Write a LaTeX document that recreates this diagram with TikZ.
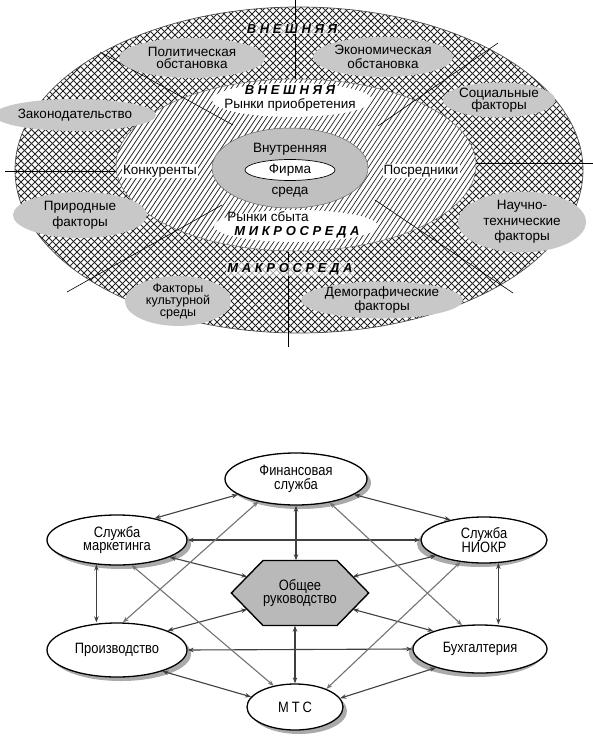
\documentclass[tikz,border=0pt]{standalone}
\usepackage{fontspec}
\setmainfont{Liberation Sans}
\newfontfamily\spacedfont[LetterSpace=28]{Liberation Sans}
\newfontfamily\narrowfont[FakeStretch=0.86]{Liberation Sans}
\usetikzlibrary{shapes.geometric,arrows.meta,shadows,backgrounds,calc}
\definecolor{lgray}{RGB}{200,200,200}
\definecolor{igray}{RGB}{192,192,192}
\definecolor{hgray}{RGB}{185,185,185}
\definecolor{shad}{RGB}{170,170,170}
\begin{document}
\begin{tikzpicture}[x=1pt,y=-1pt,
  xh/.style={line width=0.75pt, black!85},
  dh/.style={line width=0.7pt, black!85},
  sector/.style={line width=0.6pt, black},
  factor/.style={ellipse, fill=lgray, inner sep=0pt, align=center},
  ttxt/.style={inner sep=1pt, align=center, font=\fontsize{13.5}{13}\selectfont},
  bitxt/.style={inner sep=1pt, font=\fontsize{13}{13}\spacedfont\bfseries\itshape},
  unit/.style={ellipse, draw=black, line width=1.3pt, fill=white, inner sep=0pt, align=center, font=\fontsize{15}{13.5}\narrowfont},
  shR/.style={drop shadow={shadow xshift=4pt, shadow yshift=-4pt, fill=shad, opacity=1}},
  shL/.style={drop shadow={shadow xshift=-4pt, shadow yshift=-4pt, fill=shad, opacity=1}},
  conn/.style={draw=black!75, line width=1.1pt, {Stealth[length=6pt,width=4.5pt]}-{Stealth[length=6pt,width=4.5pt]}},
  conn2/.style={conn, draw=black!55},
]
\useasboundingbox (0,0) rectangle (593,743);
\begin{pgfonlayer}{background}
  \fill[white] (0,0) rectangle (593,743);
\end{pgfonlayer}

% ---------- outer ring (macro environment) ----------
\begin{scope}
  \clip (299,170) ellipse [x radius=284, y radius=163];
  \foreach \i in {-364,-357,...,966} {
    \draw[xh] (\i,0) -- ++(350,350);
    \draw[xh] (\i,0) -- ++(-350,350);
  }
\end{scope}
\draw[black!70, line width=0.7pt] (299,170) ellipse [x radius=284, y radius=163];

% ---------- middle ring (micro environment) ----------
\begin{scope}
  \clip (296,165) ellipse [x radius=180, y radius=86];
  \fill[white] (100,70) rectangle (490,260);
  \foreach \i in {100,105,...,625} {
    \draw[dh] (\i,60) -- ++(-140,210);
  }
\end{scope}
\draw[black!60, line width=0.5pt] (296,165) ellipse [x radius=180, y radius=86];

% sector lines
\draw[sector] (295,0) -- (295,79);
\draw[sector] (100,52) -- (233,125);
\draw[sector] (498,43) -- (378,126);
\draw[sector] (67,292) -- (222,205);
\draw[sector] (375,200) -- (513,293);
\draw[sector] (288,252) -- (288,347);
\draw[sector] (5,171) -- (116,171);
\draw[sector] (476,163) -- (593,163);

% white bands
\fill[white] (292,100) ellipse [x radius=80, y radius=17];
\fill[white] (296,226) ellipse [x radius=82, y radius=16];

% inner environment
\node[ellipse, fill=igray, draw=black!60, line width=0.5pt, minimum width=156, minimum height=80, inner sep=0pt] (inner) at (290,168) {};
\node[ellipse, draw=black, fill=white, line width=0.7pt, minimum width=90, minimum height=21, inner sep=0pt, font=\fontsize{13.5}{13}\selectfont] (firm) at (290,170) {Фирма};
\node[ttxt] (vnutr) at (290,149) {Внутренняя};
\node[ttxt] (sreda) at (290,192) {среда};

% factors
\node[factor, minimum width=146, minimum height=40, font=\fontsize{13.5}{12.5}\selectfont] (pol) at (192,58) {Политическая\\обстановка};
\node[factor, minimum width=140, minimum height=40, font=\fontsize{13.5}{14}\selectfont] (eco) at (383,57) {Экономическая\\обстановка};
\node[factor, minimum width=146, minimum height=32, font=\fontsize{13.5}{13}\selectfont] (zak) at (75,115) {Законодательство};
\node[factor, minimum width=110, minimum height=34, font=\fontsize{13.5}{12.5}\selectfont] (soc) at (499,100) {Социальные\\факторы};
\node[factor, minimum width=134, minimum height=46, font=\fontsize{13.5}{16}\selectfont] (pri) at (80,215) {Природные\\факторы};
\node[factor, minimum width=128, minimum height=50, font=\fontsize{13.5}{15.5}\selectfont] (nau) at (522,222) {Научно-\\технические\\факторы};
\node[factor, minimum width=106, minimum height=40, font=\fontsize{12.5}{12}\selectfont] (kul) at (178,301) {Факторы\\культурной\\среды};
\node[factor, minimum width=150, minimum height=36, font=\fontsize{13.5}{12.5}\selectfont] (dem) at (382,300) {Демографические\\факторы};

% labels
\node[bitxt, fill=white, fill opacity=0.6, text opacity=1] (vnesh1) at (292,29) {ВНЕШНЯЯ};
\node[bitxt, fill=white, fill opacity=0.6, text opacity=1] (makro) at (290,269) {МАКРОСРЕДА};
\node[bitxt] (vnesh2) at (290,90) {ВНЕШНЯЯ};
\node[ttxt] (rp) at (290,105) {Рынки приобретения};
\node[ttxt] (rs) at (268,217) {Рынки сбыта};
\node[bitxt] (micro) at (297,232) {МИКРОСРЕДА};
\node[ttxt, fill=white] (konk) at (160,171) {Конкуренты};
\node[ttxt, fill=white] (posr) at (421,171) {Посредники};

% ---------- bottom diagram ----------
\node[unit, shR, minimum width=142, minimum height=52] (F) at (296,479) {Финансовая\\служба};
\node[unit, shR, minimum width=140, minimum height=50] (M) at (117,540) {Служба\\маркетинга};
\node[unit, shL, minimum width=126, minimum height=46] (N) at (484,540) {Служба\\НИОКР};
\node[unit, shR, minimum width=140, minimum height=54] (P) at (117,650) {Производство};
\node[unit, shL, minimum width=134, minimum height=48] (B) at (480,649) {Бухгалтерия};
\node[unit, shR, minimum width=96, minimum height=46] (T) at (295,707) {М\kern3ptТ\kern3ptС};
\node[inner sep=0pt, minimum width=137, minimum height=65, align=center, font=\fontsize{15}{13.5}\narrowfont] (O) at (300,593) {Общее\\руководство};
\begin{pgfonlayer}{background}
  \filldraw[fill=hgray, draw=black, line width=1.4pt]
    ($(O.center)+(-37,-32.5)$) -- ($(O.center)+(37,-32.5)$) -- (O.east)
    -- ($(O.center)+(37,32.5)$) -- ($(O.center)+(-37,32.5)$) -- (O.west) -- cycle;
\end{pgfonlayer}
\coordinate (Oul) at ($(O.center)+(-52.75,-16.25)$);
\coordinate (Our) at ($(O.center)+(52.75,-16.25)$);
\coordinate (Oll) at ($(O.center)+(-52.75,16.25)$);
\coordinate (Olr) at ($(O.center)+(52.75,16.25)$);

% connectors
\draw[conn] (M.30) -- (F.195);
\draw[conn] (F.345) -- (N.149);
\draw[conn] (F.south) -- (F.south |- O.north);
\draw[conn] (M.east) -- (N.west);
\draw[conn] (M.342) -- (Oul);
\draw[conn] (N.198) -- (Our);
\draw[conn] (M.230) -- (M.230 |- P.north);
\draw[conn] (N.302) -- (N.302 |- B.north);
\draw[conn] (P.east) -- (B.west);
\draw[conn] (P.21) -- (Oll);
\draw[conn] (B.159) -- (Olr);
\draw[conn] (T.north |- O.south) -- (T.north);
\draw[conn] (P.335) -- (T.167);
\draw[conn] (B.203) -- (T.11);
\draw[conn2] (M.300) -- (T.135);
\draw[conn2] (P.78) -- (F.211);
\draw[conn2] (F.325) -- (B.127);
\draw[conn2] (N.223) -- (T.30);
\end{tikzpicture}
\end{document}
